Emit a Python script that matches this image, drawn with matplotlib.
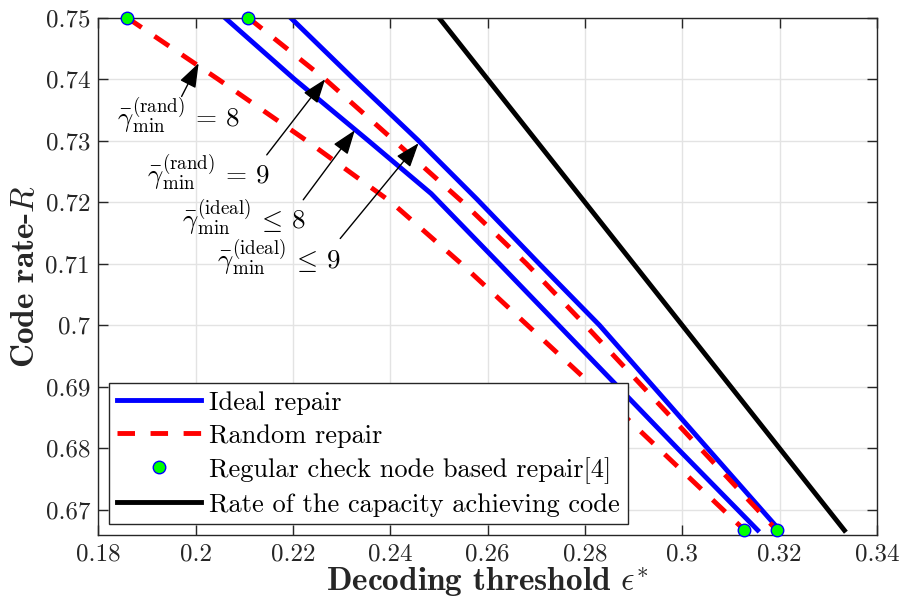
import numpy as np
import matplotlib
matplotlib.use("Agg")
import matplotlib.pyplot as plt

plt.rcParams["mathtext.fontset"] = "cm"
plt.rcParams["font.family"] = ["cmr10", "DejaVu Serif"]
plt.rcParams["axes.unicode_minus"] = False

# ideal repair curves (threshold eps*, rate R)
ideal8_R = [0.75, 0.74, 0.73, 0.7214, 0.71, 0.70, 0.69, 0.68, 0.6667]
ideal8_eps = [0.2060, 0.2203, 0.2355, 0.2484, 0.2624, 0.2746, 0.2868, 0.2990, 0.3155]
ideal9_R = [0.75, 0.74, 0.73, 0.7205, 0.71, 0.70, 0.69, 0.68, 0.6667]
ideal9_eps = [0.2195, 0.2325, 0.2458, 0.2578, 0.2706, 0.2830, 0.2941, 0.3052, 0.3200]

# random repair curves
rand8_R = [0.75, 0.74, 0.73, 0.72, 0.71, 0.70, 0.69, 0.68, 0.6667]
rand8_eps = [0.1859, 0.2046, 0.2228, 0.2402, 0.2546, 0.2682, 0.2818, 0.2951, 0.3128]
rand9_R = [0.75, 0.74, 0.73, 0.72, 0.71, 0.70, 0.69, 0.68, 0.6667]
rand9_eps = [0.2108, 0.2266, 0.2408, 0.2549, 0.2680, 0.2801, 0.2919, 0.3037, 0.3194]

# regular check node based repair [4]
reg_eps = [0.1859, 0.2108, 0.3128, 0.3194]
reg_R = [0.75, 0.75, 0.6667, 0.6667]

# capacity achieving code R = 1 - eps
cap_eps = [0.25, 1 / 3]
cap_R = [0.75, 2 / 3]

xticks = [0.18, 0.20, 0.22, 0.24, 0.26, 0.28, 0.30, 0.32, 0.34]
xticklabels = ["0.18", "0.2", "0.22", "0.24", "0.26", "0.28", "0.3", "0.32", "0.34"]
yticks = [0.67, 0.68, 0.69, 0.70, 0.71, 0.72, 0.73, 0.74, 0.75]
yticklabels = ["0.67", "0.68", "0.69", "0.7", "0.71", "0.72", "0.73", "0.74", "0.75"]

# annotations: (text, arrow tip, arrow tail, text centre)
notes = [
    (r"$\bar{\gamma}_{\mathrm{min}}^{(\mathrm{rand})}\,=\,8$", (0.2006, 0.7426), (0.1971, 0.7372), (0.1964, 0.7340)),
    (r"$\bar{\gamma}_{\mathrm{min}}^{(\mathrm{rand})}\,=\,9$", (0.2266, 0.7400), (0.2146, 0.7277), (0.2025, 0.7246)),
    (r"$\bar{\gamma}_{\mathrm{min}}^{(\mathrm{ideal})}\,\leq\,8$", (0.2327, 0.7317), (0.2221, 0.7204), (0.2099, 0.7174)),
    (r"$\bar{\gamma}_{\mathrm{min}}^{(\mathrm{ideal})}\,\leq\,9$", (0.2458, 0.7296), (0.2297, 0.7141), (0.2171, 0.7109)),
]

dark = "#262626"
fig = plt.figure(figsize=(9.03, 6.04), dpi=100)
ax = fig.add_axes([0.109, 0.1142, 0.862, 0.8565])

lw = 3.5
ax.plot(ideal8_eps, ideal8_R, color="blue", lw=lw, label="Ideal repair")
ax.plot(rand8_eps, rand8_R, color="red", lw=lw, dashes=(3.6, 3.2), label="Random repair")
ax.plot(ideal9_eps, ideal9_R, color="blue", lw=lw)
ax.plot(rand9_eps, rand9_R, color="red", lw=lw, dashes=(3.6, 3.2))
ax.plot(reg_eps, reg_R, ls="none", marker="o", ms=9, mfc=(0, 1, 0), mec="blue", mew=1,
        label="Regular check node based repair[4]", zorder=5, clip_on=False)
ax.plot(cap_eps, cap_R, color="black", lw=lw, label="Rate of the capacity achieving code")

for txt, tip, tail, pos in notes:
    ax.annotate("", xy=tip, xytext=tail,
                arrowprops=dict(arrowstyle="-|>,head_length=0.5,head_width=0.18",
                                mutation_scale=30, lw=1, color="black",
                                shrinkA=0, shrinkB=0))
    ax.text(pos[0], pos[1], txt, fontsize=19.5, ha="center", va="center", color="black")

ax.set_xlim(0.18, 0.34)
ax.set_ylim(0.6659, 0.75)
ax.set_xticks(xticks)
ax.set_xticklabels(xticklabels, fontsize=18, color=dark)
ax.set_yticks(yticks)
ax.set_yticklabels(yticklabels, fontsize=18, color=dark)
ax.tick_params(direction="in", length=7, width=1, top=True, right=True, colors=dark, pad=6)
ax.grid(True, color="#e3e3e3", lw=1)
ax.set_axisbelow(True)
for s in ax.spines.values():
    s.set_color(dark)
    s.set_linewidth(1)

ax.set_xlabel(r"Decoding threshold $\epsilon^{*}$", fontsize=24, family="cmb10", color=dark, labelpad=0)
ax.set_ylabel(r"Code rate-$R$", fontsize=24, family="cmb10", color=dark, labelpad=4)

leg = ax.legend(loc="lower left", fontsize=19, handlelength=3.2, handletextpad=0.3,
                borderpad=0.3, labelspacing=0.35, fancybox=False, framealpha=1,
                edgecolor=dark, borderaxespad=0.4)
leg.get_frame().set_linewidth(1)

fig.savefig("out.png", dpi=100, facecolor="white")
